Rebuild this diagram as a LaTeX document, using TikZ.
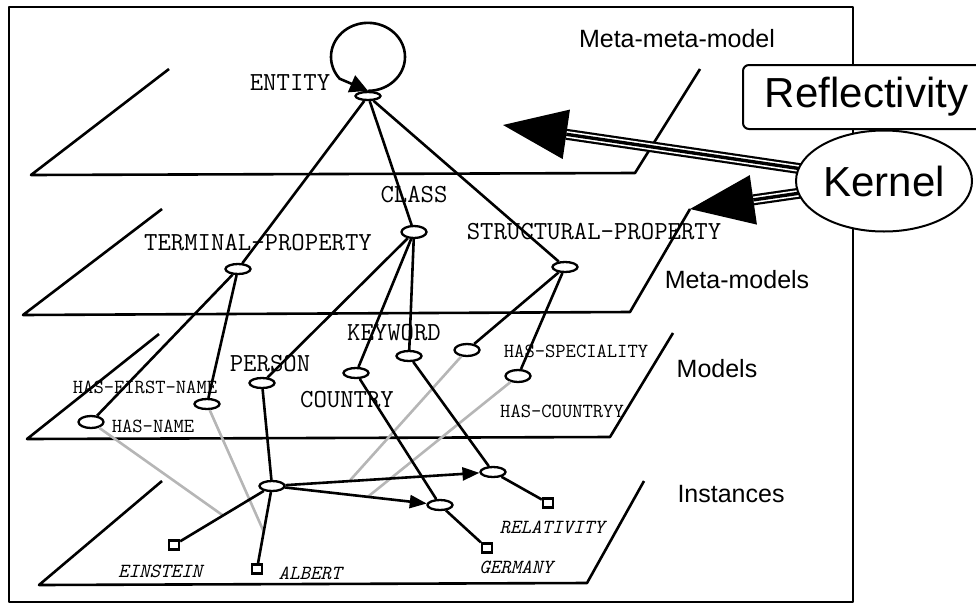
\documentclass[tikz,border=0pt]{standalone}
\usepackage{fontspec}
\newfontfamily\helv{Liberation Sans}
\usetikzlibrary{arrows.meta,calc,shapes.geometric}
\pgfdeclarelayer{bg}
\pgfsetlayers{bg,main}
\definecolor{lgray}{RGB}{182,182,182}
\begin{document}
\begin{tikzpicture}[x=1pt,y=-1pt,
  ln/.style={line width=2.6pt, line join=round},
  ov/.style={draw, ellipse, line width=2.3pt, fill=white, minimum width=25pt, minimum height=10pt, inner sep=0pt},
  sq/.style={draw, rectangle, line width=2.3pt, fill=white, minimum width=10pt, minimum height=9pt, inner sep=0pt},
  big/.style={font=\ttfamily\fontsize{26}{28}\selectfont, inner sep=0pt},
  small/.style={font=\ttfamily\fontsize{20}{22}\selectfont, inner sep=0pt},
  inst/.style={font=\ttfamily\itshape\fontsize{20}{22}\selectfont, inner sep=0pt},
  lay/.style={font=\helv\fontsize{25}{28}\selectfont, inner sep=0pt},
  gr/.style={line width=2.6pt, draw=lgray},
  arr/.style={ln, -{Triangle[length=17pt,width=13pt]}}]
\useasboundingbox (0,0) rectangle (976,605);

% Kernel and Reflectivity
\node[draw, ellipse, line width=2pt, fill=white, minimum width=176pt, minimum height=101pt, inner sep=0pt,
      font=\helv\fontsize{42}{44}\selectfont] (kernel) at (884,181) {Kernel};
\node[draw, rectangle, rounded corners=6pt, line width=2pt, fill=white, minimum width=247pt, minimum height=64pt,
      inner sep=0pt, font=\helv\fontsize{42}{44}\selectfont] (refl) at (866.5,97) {Reflectivity};

\coordinate (t1) at (503,125);
\coordinate (t2) at (690,209);

\begin{pgfonlayer}{bg}
  % frame
  \draw[ln] (9,7) rectangle (853,602);
  % planes
  \draw[ln] (169,69) -- (31,175) -- (635,173) -- (700,69);
  \draw[ln] (162,209) -- (23,315) -- (630,312) -- (690,209);
  \draw[ln] (159,334) -- (27,439) -- (610,437) -- (673,333);
  \draw[ln] (162,481) -- (39,585) -- (587,583) -- (644,481);
  % big reflective arrows
  \foreach \t in {t1,t2} {
    \coordinate (b) at ($(\t)!64pt!(kernel.center)$);
    \draw[line width=11pt] (kernel.center) -- (b);
    \draw[white, line width=6.6pt] (kernel.center) -- (b);
    \draw[line width=3.4pt] (kernel.center) -- (b);
    \fill (\t) -- ($(b)!25pt!90:(\t)$) -- ($(b)!25pt!-90:(\t)$) -- cycle;
  }
\end{pgfonlayer}

% layer labels
\node[lay] (lmm) at (677,39) {Meta-meta-model};
\node[lay] (lmeta) at (737,280) {Meta-models};
\node[lay] (lmod) at (717,369) {Models};
\node[lay] (linst) at (731,494) {Instances};

% model nodes
\node[ov, minimum height=8pt] (entity) at (368,96) {};
\node[ov, minimum height=12pt] (class) at (414,232) {};
\node[ov] (tprop) at (238,269) {};
\node[ov] (sprop) at (565,267) {};
\node[ov] (person) at (262,383) {};
\node[ov] (hasfirst) at (207,404) {};
\node[ov, minimum height=12pt] (hasname) at (91,422) {};
\node[ov] (country) at (356,373) {};
\node[ov] (keyword) at (409,356) {};
\node[ov, minimum height=12pt] (hasspec) at (467,350) {};
\node[ov, minimum height=12pt] (hascountry) at (518,376) {};
% instance nodes
\node[ov] (pi) at (272,486) {};
\node[ov] (ri) at (493,472) {};
\node[ov] (gi) at (440,505) {};
\node[sq] (sein) at (174,545) {};
\node[sq] (salb) at (257,569) {};
\node[sq] (srel) at (548,503) {};
\node[sq] (sger) at (487,548) {};

% labels
\node[big] (lentity) at (290,83) {ENTITY};
\node[big] (lclass) at (414,195) {CLASS};
\node[big] (ltprop) at (258,243) {TERMINAL-PROPERTY};
\node[big] (lsprop) at (594,232) {STRUCTURAL-PROPERTY};
\node[big] (lkeyword) at (394,333) {KEYWORD};
\node[big] (lperson) at (270,364) {PERSON};
\node[big] (lcountry) at (347,400) {COUNTRY};
\node[small] (lhasfirst) at (145,387) {HAS-FIRST-NAME};
\node[small] (lhasname) at (153,426) {HAS-NAME};
\node[small] (lhasspec) at (576,351) {HAS-SPECIALITY};
\node[small] (lhascountry) at (562,411) {HAS-COUNTRYY};
\node[inst] (lein) at (160,571) {EINSTEIN};
\node[inst] (lalb) at (310,573) {ALBERT};
\node[inst] (lrel) at (552,527) {RELATIVITY};
\node[inst] (lger) at (516,567) {GERMANY};

% gray instance-of-attribute links
\coordinate (m1) at ($(pi)!0.5!(sein)$);
\coordinate (m2) at ($(pi)!0.55!(salb)$);
\coordinate (m3) at ($(pi)!0.35!(ri)$);
\coordinate (m4) at ($(pi)!0.57!(gi)$);
\draw[gr] (hasname) -- (m1);
\draw[gr] (hasfirst) -- (m2);
\draw[gr] (hasspec) -- (m3);
\draw[gr] (hascountry) -- (m4);

% meta links
\draw[ln] (entity) -- (tprop);
\draw[ln] (entity) -- (class);
\draw[ln] (entity) -- (sprop);
\draw[ln] (tprop) -- (hasname);
\draw[ln] (tprop) -- (hasfirst);
\draw[ln] (class) -- (person);
\draw[ln] (class) -- (country);
\draw[ln] (class) -- (keyword);
\draw[ln] (sprop) -- (hasspec);
\draw[ln] (sprop) -- (hascountry);
\draw[ln] (person) -- (pi);
\draw[ln] (country) -- (gi);
\draw[ln] (keyword) -- (ri);

% instance links
\draw[ln] (pi) -- (sein);
\draw[ln] (pi) -- (salb);
\draw[arr] (pi) -- (ri);
\draw[arr] (pi) -- (gi);
\draw[ln] (ri) -- (srel);
\draw[ln] (gi) -- (sger);

% reflexive loop on ENTITY
\draw[ln, -{Triangle[length=18pt,width=18pt]}] (entity.north)
  arc[start angle=90, end angle=-220, x radius=37, y radius=34] -- (entity.north);
\end{tikzpicture}
\end{document}
